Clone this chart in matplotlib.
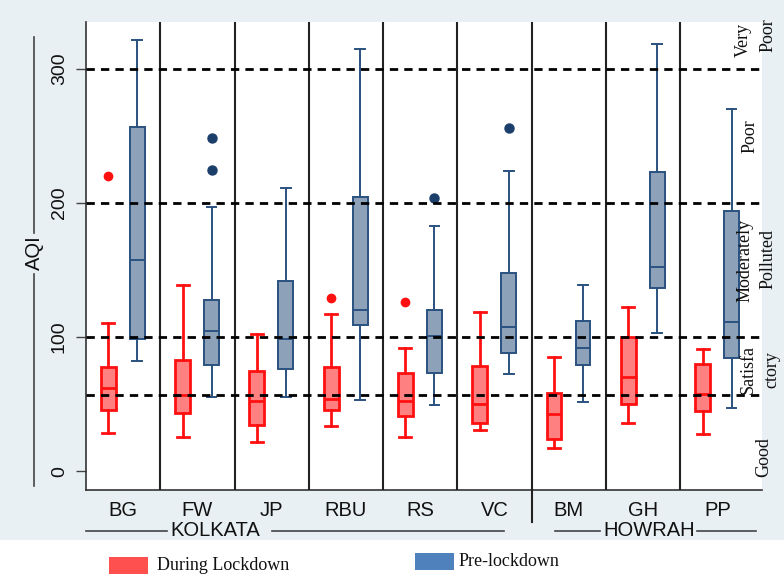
import matplotlib
matplotlib.use("Agg")
import matplotlib.pyplot as plt
from matplotlib.patches import Rectangle
from matplotlib.lines import Line2D

# ---------------- data ----------------
sites = ["BG", "FW", "JP", "RBU", "RS", "VC", "BM", "GH", "PP"]

# During lockdown: whislo, q1, median, q3, whishi
lock_whislo = [28.4, 25.4, 21.9, 33.6, 25.4, 30.6, 17.4, 36.1, 28.1]
lock_q1     = [46.0, 43.5, 34.1, 45.5, 41.5, 35.8, 24.4, 50.0, 45.0]
lock_med    = [62.2, 56.7, 52.2, 53.5, 52.5, 49.8, 42.5, 70.4, 57.5]
lock_q3     = [77.8, 82.6, 74.6, 77.8, 72.9, 78.1, 58.5, 100.0, 79.9]
lock_whishi = [110.4, 138.8, 102.7, 117.4, 92.0, 118.7, 85.3, 122.6, 91.3]
lock_fliers = [[220], [], [], [129.3], [126.4], [], [], [], []]

# Pre-lockdown
pre_whislo = [82.0, 55.0, 55.0, 53.0, 49.3, 72.2, 51.5, 103.0, 47.5]
pre_q1     = [98.5, 78.9, 75.9, 109.2, 73.4, 87.8, 78.9, 136.6, 84.8]
pre_med    = [157.5, 104.7, 98.8, 120.1, 101.0, 107.2, 91.8, 152.0, 111.2]
pre_q3     = [257.0, 128.0, 141.6, 204.2, 120.6, 148.0, 112.4, 223.1, 193.8]
pre_whishi = [321.6, 197.0, 211.4, 314.7, 182.8, 223.9, 138.8, 318.4, 270.4]
pre_fliers = [[], [225, 248.5], [], [], [204], [255.7], [], [], []]

ref_lines = [300, 200, 100, 57]
yticks = [0, 100, 200, 300]

# ---------------- figure ----------------
W, H = 784, 577
fig = plt.figure(figsize=(W / 100, H / 100), dpi=100)
bg = "#E9F0F3"
fig.patch.set_facecolor(bg)
# white strip at the bottom for the legend
fig.patches.append(Rectangle((0, 0), 1, (H - 540) / H, transform=fig.transFigure,
                             facecolor="white", edgecolor="none", zorder=0))

def fx(px):
    return px / W

def fy(py):
    return 1 - py / H

ax = fig.add_axes([fx(86), fy(490), fx(762) - fx(86), fy(22) - fy(490)])
ax.set_facecolor("white")

def stats(wl, q1, md, q3, wh, fl):
    return [dict(whislo=a, q1=b, med=c, q3=d, whishi=e, fliers=f)
            for a, b, c, d, e, f in zip(wl, q1, md, q3, wh, fl)]

pos = list(range(len(sites)))
red_edge = "#FF1010"
red_face = "#FF8080"
blue_edge = "#2A5180"
blue_face = "#8DA2B8"

ax.bxp(stats(lock_whislo, lock_q1, lock_med, lock_q3, lock_whishi, lock_fliers),
       positions=[p - 0.2 for p in pos], widths=0.2, patch_artist=True,
       capwidths=0.16, manage_ticks=False,
       boxprops=dict(facecolor=red_face, edgecolor=red_edge, linewidth=2.0),
       medianprops=dict(color=red_edge, linewidth=2.0),
       whiskerprops=dict(color=red_edge, linewidth=2.0),
       capprops=dict(color=red_edge, linewidth=2.0),
       flierprops=dict(marker="o", markerfacecolor=red_edge, markeredgecolor=red_edge,
                       markersize=6))
ax.bxp(stats(pre_whislo, pre_q1, pre_med, pre_q3, pre_whishi, pre_fliers),
       positions=[p + 0.19 for p in pos], widths=0.2, patch_artist=True,
       capwidths=0.13, manage_ticks=False,
       boxprops=dict(facecolor=blue_face, edgecolor=blue_edge, linewidth=1.4),
       medianprops=dict(color=blue_edge, linewidth=1.4),
       whiskerprops=dict(color=blue_edge, linewidth=1.4),
       capprops=dict(color=blue_edge, linewidth=1.4),
       flierprops=dict(marker="o", markerfacecolor="#1B3F6A", markeredgecolor="#1B3F6A",
                       markersize=6.5))

for v in ref_lines:
    ax.axhline(v, color="black", linestyle=(0, (3, 2.2)), linewidth=2.0, zorder=5)

for i in range(len(sites) - 1):
    if i == 5:
        ax.plot([i + 0.5, i + 0.5], [-14, 335], color="#222222", lw=1.5, zorder=4)
        ax.plot([i + 0.5, i + 0.5], [-14, -38], color="#222222", lw=1.5, zorder=4,
                clip_on=False)
    else:
        ax.axvline(i + 0.5, color="#222222", lw=1.5, zorder=4)

ax.set_xlim(-0.5, 8.6)
ax.set_ylim(-14, 335)
ax.set_xticks(pos)
ax.set_xticklabels(sites, family="Liberation Sans", fontsize=14.5, color="#111111")
ax.tick_params(axis="x", length=0, pad=8)
ax.set_yticks(yticks)
ax.set_yticklabels([str(t) for t in yticks], rotation=90, va="center",
                   family="Liberation Sans", fontsize=14, color="#111111")
ax.tick_params(axis="y", length=7, width=1.0, color="#444444", pad=6)
for s in ["top", "right"]:
    ax.spines[s].set_visible(False)
for s in ["left", "bottom"]:
    ax.spines[s].set_color("#333333")
    ax.spines[s].set_linewidth(1.2)

# ---------------- AQI axis title with lines ----------------
fig.text(fx(34), fy(253), "AQI", rotation=90, ha="center", va="center",
         family="Liberation Sans", fontsize=14.5, color="#111111")
fig.add_artist(Line2D([fx(34), fx(34)], [fy(37), fy(233)], color="#444444", lw=1.2))
fig.add_artist(Line2D([fx(34), fx(34)], [fy(274), fy(486)], color="#444444", lw=1.2))

# ---------------- group labels ----------------
fig.text(fx(215), fy(531), "KOLKATA", ha="center", va="center",
         family="Liberation Sans", fontsize=14.5, color="#111111")
fig.add_artist(Line2D([fx(86), fx(167)], [fy(531), fy(531)], color="#444444", lw=1.2))
fig.add_artist(Line2D([fx(272), fx(504)], [fy(531), fy(531)], color="#444444", lw=1.2))
fig.text(fx(649), fy(531), "HOWRAH", ha="center", va="center",
         family="Liberation Sans", fontsize=14.5, color="#111111")
fig.add_artist(Line2D([fx(555), fx(600)], [fy(531), fy(531)], color="#444444", lw=1.2))
fig.add_artist(Line2D([fx(697), fx(756)], [fy(531), fy(531)], color="#444444", lw=1.2))

# ---------------- category labels on right ----------------
serif = ["Liberation Serif", "DejaVu Serif"]
right_labels = [
    ("Very", 743, 40), ("Poor", 768, 35),
    ("Poor", 750, 136),
    ("Moderately", 745, 260), ("Polluted", 768, 259),
    ("Satisfa", 748, 370), ("ctory", 772, 370),
    ("Good", 764, 457),
]
for txt, x, y in right_labels:
    fig.text(fx(x), fy(y), txt, rotation=90, ha="center", va="center",
             family=serif, fontsize=13, color="#111111")

# ---------------- legend ----------------
fig.patches.append(Rectangle((fx(109), fy(574)), fx(148) - fx(109), fy(557) - fy(574),
                             transform=fig.transFigure, facecolor="#FF5050",
                             edgecolor="none"))
fig.text(fx(157), fy(566), "During Lockdown", ha="left", va="center",
         family=serif, fontsize=13, color="#111111")
fig.patches.append(Rectangle((fx(415), fy(570)), fx(454) - fx(415), fy(553) - fy(570),
                             transform=fig.transFigure, facecolor="#4F81BD",
                             edgecolor="none"))
fig.text(fx(459), fy(561), "Pre-lockdown", ha="left", va="center",
         family=serif, fontsize=13, color="#111111")

fig.savefig("out.png", dpi=100, facecolor=fig.get_facecolor())
